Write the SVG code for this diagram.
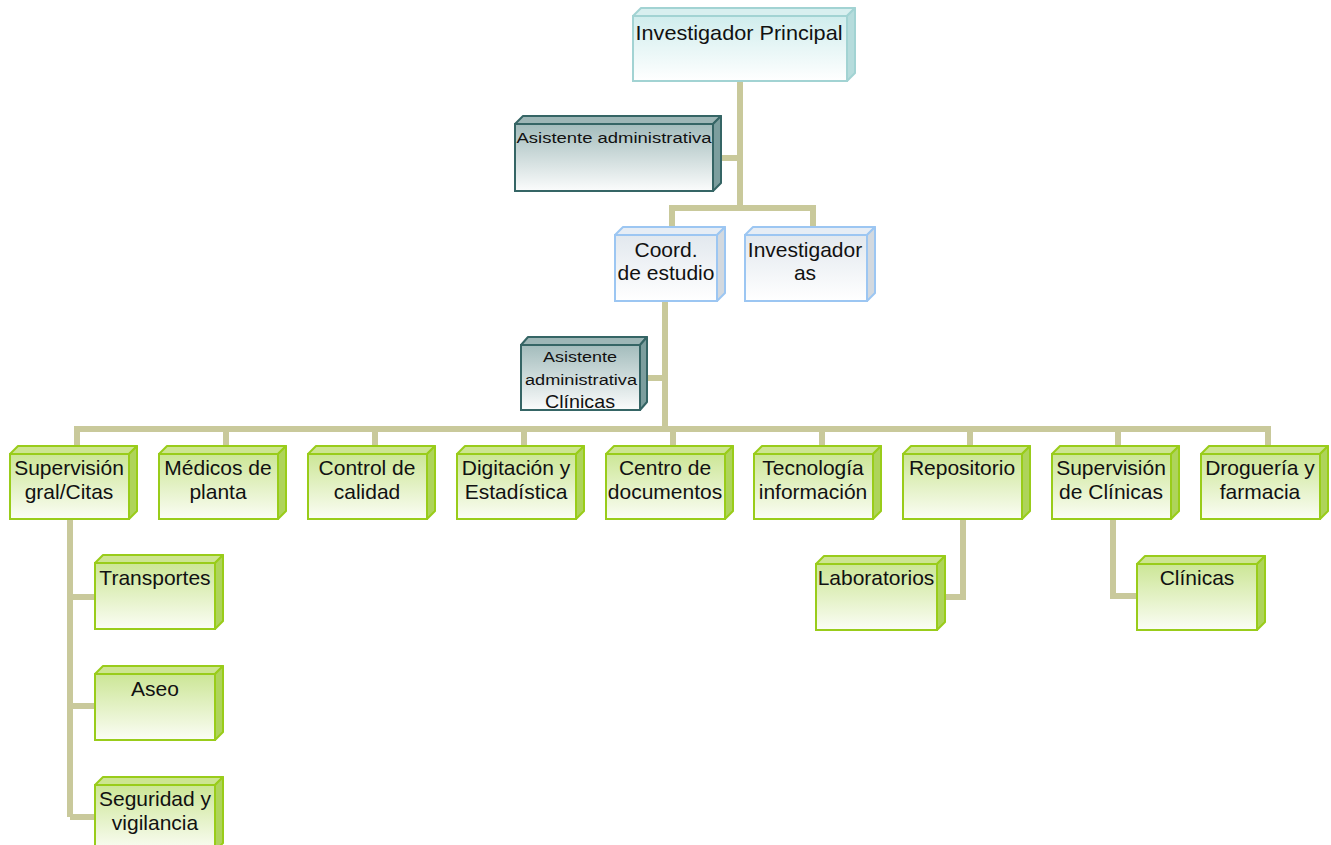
<svg xmlns="http://www.w3.org/2000/svg" width="1331" height="845" viewBox="0 0 1331 845">
<defs>
<linearGradient id="gG" x1="0" y1="0" x2="0" y2="1"><stop offset="0" stop-color="#cce696"/><stop offset="1" stop-color="#fbfdf5"/></linearGradient>
<linearGradient id="gB" x1="0" y1="0" x2="0" y2="1"><stop offset="0" stop-color="#e2e8ee"/><stop offset="1" stop-color="#ffffff"/></linearGradient>
<linearGradient id="gC" x1="0" y1="0" x2="0" y2="1"><stop offset="0" stop-color="#d0eded"/><stop offset="1" stop-color="#ffffff"/></linearGradient>
<linearGradient id="gD" x1="0" y1="0" x2="0" y2="1"><stop offset="0" stop-color="#a3bcbc"/><stop offset="1" stop-color="#fbfcfc"/></linearGradient>
</defs>
<style>
text{font-family:"Liberation Sans",Arial,sans-serif;fill:#111;text-anchor:middle}
.t20{font-size:21px}
.conn path{fill:none;stroke:#c9c99b;stroke-width:6}
.g .f{fill:url(#gG);stroke:#99cc1a;stroke-width:2}
.g .tp{fill:#cde591;stroke:#99cc1a;stroke-width:2;stroke-linejoin:round}
.g .sd{fill:#aed45a;stroke:#99cc1a;stroke-width:2;stroke-linejoin:round}
.b .f{fill:url(#gB);stroke:#9cc6f2;stroke-width:2}
.b .tp{fill:#e6edf5;stroke:#9cc6f2;stroke-width:2;stroke-linejoin:round}
.b .sd{fill:#d3d9df;stroke:#9cc6f2;stroke-width:2;stroke-linejoin:round}
.c .f{fill:url(#gC);stroke:#a2d3d3;stroke-width:2}
.c .tp{fill:#d8efef;stroke:#a2d3d3;stroke-width:2;stroke-linejoin:round}
.c .sd{fill:#b6dcdc;stroke:#a2d3d3;stroke-width:2;stroke-linejoin:round}
.d .f{fill:url(#gD);stroke:#356565;stroke-width:2}
.d .tp{fill:#9db6b6;stroke:#356565;stroke-width:2;stroke-linejoin:round}
.d .sd{fill:#7c9e9e;stroke:#356565;stroke-width:2;stroke-linejoin:round}
</style>

<g class="conn" id="connectors">
<path d="M740,81 V208"/>
<path d="M713,158 H740"/>
<path d="M672,235 V208 H813 V235"/>
<path d="M665,301 V429"/>
<path d="M640,378 H665"/>
<path d="M77,454 V429 H1268 V454"/>
<path d="M226,429 V454 M375,429 V454 M524,429 V454 M673,429 V454 M822,429 V454 M970,429 V454 M1118,429 V454"/>
<path d="M70,519 V817 M70,597 H95 M70,706 H95 M70,817 H95"/>
<path d="M963,519 V597 H945"/>
<path d="M1113,519 V596 H1137"/>
</g>

<g id="n-investigador-principal" class="c">
<polygon class="tp" points="633,16 641,8 855,8 847,16"/>
<polygon class="sd" points="847,16 855,8 855,73 847,81"/>
<rect class="f" x="633" y="16" width="214" height="65"/>
<text x="739" y="40" font-size="21" textLength="207" lengthAdjust="spacingAndGlyphs">Investigador Principal</text>
</g>

<g id="n-asistente-administrativa" class="d">
<polygon class="tp" points="515,124 523,116 721,116 713,124"/>
<polygon class="sd" points="713,124 721,116 721,183 713,191"/>
<rect class="f" x="515" y="124" width="198" height="67"/>
<text x="614" y="143" font-size="15.5" textLength="195" lengthAdjust="spacingAndGlyphs">Asistente administrativa</text>
</g>

<g id="n-coord" class="b">
<polygon class="tp" points="615,235 623,227 725,227 717,235"/>
<polygon class="sd" points="717,235 725,227 725,293 717,301"/>
<rect class="f" x="615" y="235" width="102" height="66"/>
<text class="t20" x="666" y="257">Coord.</text>
<text class="t20" x="666" y="280">de estudio</text>
</g>

<g id="n-investigadoras" class="b">
<polygon class="tp" points="745,235 753,227 875,227 867,235"/>
<polygon class="sd" points="867,235 875,227 875,293 867,301"/>
<rect class="f" x="745" y="235" width="122" height="66"/>
<text class="t20" x="805" y="257">Investigador</text>
<text class="t20" x="805" y="280">as</text>
</g>

<g id="n-asistente-clinicas" class="d">
<polygon class="tp" points="521,345 528,337 647,337 640,345"/>
<polygon class="sd" points="640,345 647,337 647,402 640,410"/>
<rect class="f" x="521" y="345" width="119" height="65"/>
<text x="580" y="362" font-size="15.5" textLength="74" lengthAdjust="spacingAndGlyphs">Asistente</text>
<text x="581" y="385" font-size="15.5" textLength="112" lengthAdjust="spacingAndGlyphs">administrativa</text>
<text x="580" y="408" font-size="18.5" textLength="70" lengthAdjust="spacingAndGlyphs">Clínicas</text>
</g>

<g id="n-supervision-gral" class="g">
<polygon class="tp" points="10,454 18,446 137,446 129,454"/>
<polygon class="sd" points="129,454 137,446 137,511 129,519"/>
<rect class="f" x="10" y="454" width="119" height="65"/>
<text class="t20" x="69" y="475">Supervisión</text>
<text class="t20" x="69" y="499">gral/Citas</text>
</g>

<g id="n-medicos" class="g">
<polygon class="tp" points="159,454 167,446 286,446 278,454"/>
<polygon class="sd" points="278,454 286,446 286,511 278,519"/>
<rect class="f" x="159" y="454" width="119" height="65"/>
<text class="t20" x="218" y="475">Médicos de</text>
<text class="t20" x="218" y="499">planta</text>
</g>

<g id="n-control" class="g">
<polygon class="tp" points="308,454 316,446 435,446 427,454"/>
<polygon class="sd" points="427,454 435,446 435,511 427,519"/>
<rect class="f" x="308" y="454" width="119" height="65"/>
<text class="t20" x="367" y="475">Control de</text>
<text class="t20" x="367" y="499">calidad</text>
</g>

<g id="n-digitacion" class="g">
<polygon class="tp" points="457,454 465,446 584,446 576,454"/>
<polygon class="sd" points="576,454 584,446 584,511 576,519"/>
<rect class="f" x="457" y="454" width="119" height="65"/>
<text class="t20" x="516" y="475">Digitación y</text>
<text class="t20" x="516" y="499">Estadística</text>
</g>

<g id="n-centro" class="g">
<polygon class="tp" points="606,454 614,446 733,446 725,454"/>
<polygon class="sd" points="725,454 733,446 733,511 725,519"/>
<rect class="f" x="606" y="454" width="119" height="65"/>
<text class="t20" x="665" y="475">Centro de</text>
<text class="t20" x="665" y="499">documentos</text>
</g>

<g id="n-tecnologia" class="g">
<polygon class="tp" points="754,454 762,446 881,446 873,454"/>
<polygon class="sd" points="873,454 881,446 881,511 873,519"/>
<rect class="f" x="754" y="454" width="119" height="65"/>
<text class="t20" x="813" y="475">Tecnología</text>
<text class="t20" x="813" y="499">información</text>
</g>

<g id="n-repositorio" class="g">
<polygon class="tp" points="903,454 911,446 1030,446 1022,454"/>
<polygon class="sd" points="1022,454 1030,446 1030,511 1022,519"/>
<rect class="f" x="903" y="454" width="119" height="65"/>
<text class="t20" x="962" y="475">Repositorio</text>
</g>

<g id="n-supervision-clinicas" class="g">
<polygon class="tp" points="1052,454 1060,446 1179,446 1171,454"/>
<polygon class="sd" points="1171,454 1179,446 1179,511 1171,519"/>
<rect class="f" x="1052" y="454" width="119" height="65"/>
<text class="t20" x="1111" y="475">Supervisión</text>
<text class="t20" x="1111" y="499">de Clínicas</text>
</g>

<g id="n-drogueria" class="g">
<polygon class="tp" points="1201,454 1209,446 1328,446 1320,454"/>
<polygon class="sd" points="1320,454 1328,446 1328,511 1320,519"/>
<rect class="f" x="1201" y="454" width="119" height="65"/>
<text class="t20" x="1260" y="475">Droguería y</text>
<text class="t20" x="1260" y="499">farmacia</text>
</g>

<g id="n-transportes" class="g">
<polygon class="tp" points="95,563 103,555 223,555 215,563"/>
<polygon class="sd" points="215,563 223,555 223,621 215,629"/>
<rect class="f" x="95" y="563" width="120" height="66"/>
<text class="t20" x="155" y="585">Transportes</text>
</g>

<g id="n-aseo" class="g">
<polygon class="tp" points="95,674 103,666 223,666 215,674"/>
<polygon class="sd" points="215,674 223,666 223,732 215,740"/>
<rect class="f" x="95" y="674" width="120" height="66"/>
<text class="t20" x="155" y="696">Aseo</text>
</g>

<g id="n-seguridad" class="g">
<polygon class="tp" points="95,785 103,777 223,777 215,785"/>
<polygon class="sd" points="215,785 223,777 223,843 215,851"/>
<rect class="f" x="95" y="785" width="120" height="66"/>
<text class="t20" x="155" y="806">Seguridad y</text>
<text class="t20" x="155" y="830">vigilancia</text>
</g>

<g id="n-laboratorios" class="g">
<polygon class="tp" points="816,564 824,556 945,556 937,564"/>
<polygon class="sd" points="937,564 945,556 945,622 937,630"/>
<rect class="f" x="816" y="564" width="121" height="66"/>
<text class="t20" x="876" y="585">Laboratorios</text>
</g>

<g id="n-clinicas" class="g">
<polygon class="tp" points="1137,564 1145,556 1265,556 1257,564"/>
<polygon class="sd" points="1257,564 1265,556 1265,622 1257,630"/>
<rect class="f" x="1137" y="564" width="120" height="66"/>
<text class="t20" x="1197" y="585">Clínicas</text>
</g>
</svg>
